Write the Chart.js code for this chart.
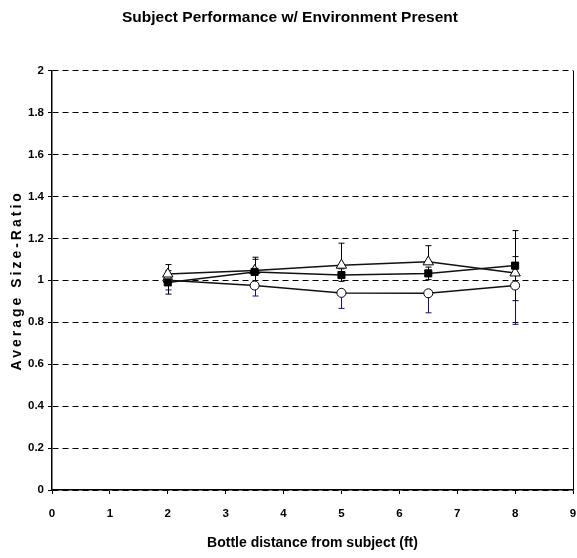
<!DOCTYPE html>
<html>
<head>
<meta charset="utf-8">
<script src="https://cdn.jsdelivr.net/npm/chart.js@4.4.0/dist/chart.umd.min.js"></script>
<style>
  body { margin: 0; background: #fff; overflow: hidden; }
  #frame { width: 577px; height: 558px; overflow: hidden; }
  #wrap { width: 580px; height: 558px; position: relative; }
</style>
</head>
<body>
<div id="frame"><div id="wrap"><canvas id="sizeChart"></canvas></div></div>
<script>
// distances where the bottle was placed (ft)
const distances = [2, 3.5, 5, 6.5, 8]

// filled squares, error bars both ways
const squareValues = [0.99, 1.04, 1.025, 1.033, 1.07]
const squareErr = [0.056, 0.06, 0.03, 0.03, 0.167]

// open triangles, error bars only upwards
const triangleValues = [1.03, 1.047, 1.072, 1.088, 1.035]
const trianglePlus = [0.045, 0.063, 0.105, 0.077, 0.078]

// open circles, error bars only downwards (blue)
const circleValues = [1.0, 0.975, 0.94, 0.938, 0.975]
const circleMinus = [0.046, 0.05, 0.074, 0.093, 0.185]

const chartTitle = 'Subject Performance w/ Environment Present'
const xTitle = 'Bottle distance from subject (ft)'
const yTitle = 'Average Size-Ratio'

const fontFamily = "'Liberation Sans Narrow', 'Arial Narrow', 'Liberation Sans', Arial, sans-serif"
Chart.defaults.font.family = fontFamily
Chart.defaults.color = '#000'

const zeros = distances.map(() => 0)

// circle first so the black bars end up on top of the blue ones
const errorSets = [
    { values: circleValues, plus: zeros, minus: circleMinus, color: '#10108a' },
    { values: triangleValues, plus: trianglePlus, minus: zeros, color: '#000' },
    { values: squareValues, plus: squareErr, minus: squareErr, color: '#000' }
]

const errorBarPlugin = {
    id: 'errorBars',
    beforeDatasetsDraw(chart) {
        const { ctx, scales: { x, y } } = chart
        errorSets.forEach(set => {
            ctx.save()
            ctx.strokeStyle = set.color
            ctx.lineWidth = 1
            distances.forEach((d, i) => {
                const px = Math.round(x.getPixelForValue(d)) + 0.5
                const v = set.values[i]
                const top = y.getPixelForValue(v + set.plus[i])
                const bottom = y.getPixelForValue(v - set.minus[i])
                ctx.beginPath()
                ctx.moveTo(px, top)
                ctx.lineTo(px, bottom)
                if (set.plus[i] > 0) {
                    ctx.moveTo(px - 3, top)
                    ctx.lineTo(px + 3, top)
                }
                if (set.minus[i] > 0) {
                    ctx.moveTo(px - 3, bottom)
                    ctx.lineTo(px + 3, bottom)
                }
                ctx.stroke()
            })
            ctx.restore()
        })
    }
}

// rotated y title with the wide letter spacing of the original
const yTitlePlugin = {
    id: 'yTitle',
    afterDraw(chart) {
        const { ctx, chartArea } = chart
        ctx.save()
        ctx.translate(17, (chartArea.top + chartArea.bottom) / 2)
        ctx.rotate(-Math.PI / 2)
        ctx.font = 'bold 14px ' + fontFamily
        ctx.letterSpacing = '3px'
        ctx.textAlign = 'center'
        ctx.textBaseline = 'middle'
        ctx.fillStyle = '#000'
        ctx.fillText(yTitle, 0, 0)
        ctx.restore()
    }
}

function toPoints(values) {
    return distances.map((d, i) => ({ x: d, y: values[i] }))
}

const data = {
    datasets: [
        {
            data: toPoints(squareValues),
            borderColor: '#111',
            borderWidth: 1.5,
            pointStyle: 'rect',
            pointRadius: 5,
            pointBackgroundColor: '#000',
            pointBorderColor: '#000',
            pointBorderWidth: 1
        },
        {
            data: toPoints(triangleValues),
            borderColor: '#111',
            borderWidth: 1.5,
            pointStyle: 'triangle',
            pointRadius: 6,
            pointBackgroundColor: '#fff',
            pointBorderColor: '#000',
            pointBorderWidth: 1
        },
        {
            data: toPoints(circleValues),
            borderColor: '#111',
            borderWidth: 1.5,
            pointStyle: 'circle',
            pointRadius: 4.5,
            pointBackgroundColor: '#fff',
            pointBorderColor: '#000',
            pointBorderWidth: 1
        }
    ]
}

const options = {
    responsive: true,
    maintainAspectRatio: false,
    animation: false,
    layout: { padding: { left: 0, right: 0, top: 0, bottom: 0 } },
    plugins: {
        legend: { display: false },
        tooltip: { enabled: false },
        title: {
            display: true,
            text: chartTitle,
            font: { size: 15.5, weight: 'bold' },
            padding: { top: 8, bottom: 44 }
        }
    },
    scales: {
        x: {
            type: 'linear',
            min: 0,
            max: 9,
            ticks: { stepSize: 1, font: { size: 11.5, weight: 'bold' }, padding: 13, maxRotation: 0 },
            grid: {
                color: ctx => ctx.tick && ctx.tick.value === 9 ? '#000' : 'rgba(0,0,0,0)',
                tickColor: '#000',
                tickLength: 4,
                lineWidth: 1
            },
            border: { color: '#000', width: 1.5 },
            title: {
                display: true,
                text: xTitle,
                font: { size: 14, weight: 'bold' },
                padding: { top: 4, bottom: 6 }
            },
            afterFit: scale => {
                scale.height = 68
                scale.paddingRight = 0
            }
        },
        y: {
            min: 0,
            max: 2,
            ticks: {
                stepSize: 0.2,
                font: { size: 11.5, weight: 'bold' },
                padding: 4,
                callback: v => String(Math.round(v * 10) / 10)
            },
            grid: {
                color: '#000',
                tickColor: '#000',
                tickLength: 4,
                lineWidth: 1
            },
            border: { color: '#000', width: 1.5, dash: [6, 4] },
            afterFit: scale => { scale.width = 52 }
        }
    }
}

new Chart('sizeChart', { type: 'line', data, options, plugins: [errorBarPlugin, yTitlePlugin] })
</script>
</body>
</html>
